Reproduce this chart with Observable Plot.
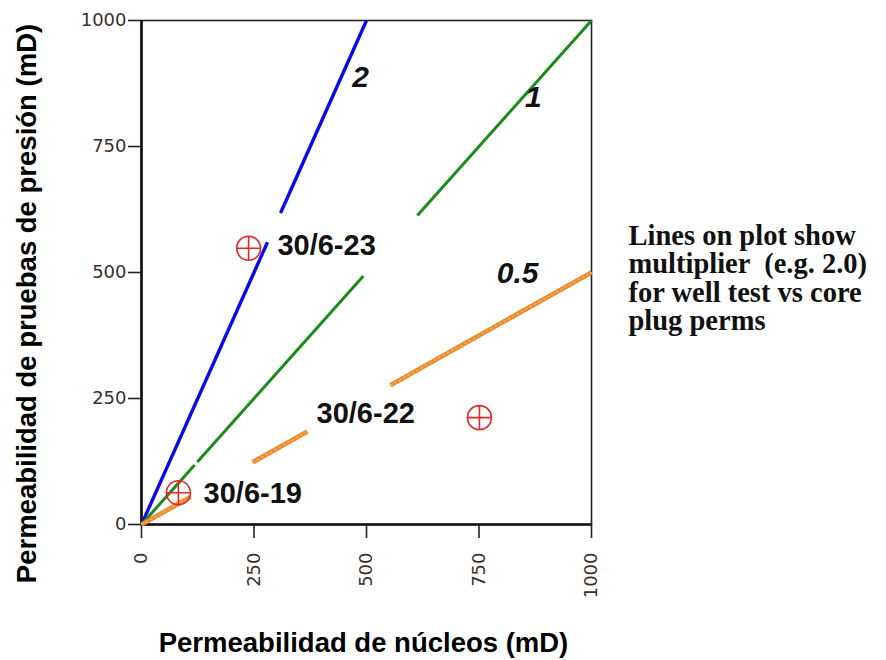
<!DOCTYPE html>
<html>
<head>
<meta charset="utf-8">
<script src="https://cdn.jsdelivr.net/npm/d3@7"></script>
<script src="https://cdn.jsdelivr.net/npm/@observablehq/plot@0.6"></script>
<style>
  html, body { margin: 0; padding: 0; background: #fff; }
  #chart svg g[aria-label="x-axis tick"] path,
  #chart svg g[aria-label="y-axis tick"] path { stroke-width: 1.6; stroke: #222; }
</style>
</head>
<body>
<div id="chart"></div>
<script>
// ---- data ----
const axisTicks = [0, 250, 500, 750, 1000];

const multiplierLabels = ["2", "1", "0.5"];
const multiplierLabelX = [487, 871, 836];
const multiplierLabelY = [887, 847, 498];

// line segments (core perm, well-test perm), gaps where labels sit
const blueSegments = [[[0, 0], [280, 560]], [[309, 618], [500, 1000]]];
const greenSegments = [[[0, 0], [118, 118]], [[124, 124], [493, 493]], [[613, 613], [1000, 1000]]];
const orangeSegments = [[[0, 0], [109, 54.5]], [[247, 123.5], [369, 184.5]], [[553, 276.5], [1000, 500]]];

const lineNames = ["x2", "x1", "x0.5"];
const lineColors = ["#0a0ae6", "#1c8a1c", "#ea8a2a"];
const lineWidths = [3.4, 3.0, 4.6];

const wellNames = ["30/6-19", "30/6-23", "30/6-22"];
const wellCorePerm = [82, 238, 751];
const wellTestPerm = [63, 548, 212];
const wellLabelX = [138, 302, 389];
const wellLabelY = [62, 553, 220];

const noteText = "Lines on plot show\nmultiplier  (e.g. 2.0)\nfor well test vs core\nplug perms";

// ---- build tables ----
const segRows = [];
[blueSegments, greenSegments, orangeSegments].forEach((segs, i) => {
  segs.forEach((s, j) => {
    s.forEach(([x, y]) => segRows.push({x, y, line: lineNames[i], seg: lineNames[i] + "-" + j}));
  });
});
const wells = wellNames.map((name, i) => ({name, x: wellCorePerm[i], y: wellTestPerm[i], lx: wellLabelX[i], ly: wellLabelY[i]}));
const mults = multiplierLabels.map((t, i) => ({t, x: multiplierLabelX[i], y: multiplierLabelY[i]}));

const crossCircle = {
  draw(ctx, size) {
    const r = Math.sqrt(size / Math.PI);
    ctx.moveTo(r, 0);
    ctx.arc(0, 0, r, 0, 2 * Math.PI);
    ctx.moveTo(-r, 0); ctx.lineTo(r, 0);
    ctx.moveTo(0, -r); ctx.lineTo(0, r);
  }
};

const lineMarks = lineNames.map((name, i) =>
  Plot.line(segRows.filter(d => d.line === name), {x: "x", y: "y", z: "seg", stroke: lineColors[i], strokeWidth: lineWidths[i], strokeLinecap: "butt"})
);

const chart = Plot.plot({
  width: 886,
  height: 660,
  marginLeft: 141,
  marginRight: 295,
  marginTop: 20,
  marginBottom: 136,
  style: {fontFamily: "DejaVu Sans, sans-serif", fontSize: "18px", color: "#3a2e2e", background: "#fff"},
  x: {domain: [0, 1000], ticks: axisTicks, tickFormat: d => String(d), tickSize: 14, tickPadding: 14, tickRotate: -90, label: null},
  y: {domain: [0, 1000], ticks: axisTicks, tickFormat: d => String(d), tickSize: 13, tickPadding: 2, label: null},
  marks: [
    Plot.frame({stroke: "#222", strokeWidth: 1.6}),
    Plot.ruleX([0], {stroke: "#111", strokeWidth: 2.6}),
    Plot.ruleY([0], {stroke: "#111", strokeWidth: 2.6}),
    ...lineMarks,
    Plot.line(segRows.filter(d => d.line === "x0.5"), {x: "x", y: "y", z: "seg", stroke: "#f3b06a", strokeWidth: 1.4, strokeDasharray: "2,3"}),
    Plot.dot(wells, {x: "x", y: "y", symbol: crossCircle, r: 12, stroke: "#e32626", strokeWidth: 1.6, fill: "none"}),
    Plot.text(wells, {x: "lx", y: "ly", text: "name", textAnchor: "start", lineAnchor: "middle", fontSize: 29, fontWeight: "bold", fontFamily: "Liberation Sans, Arial, sans-serif", fill: "#111"}),
    Plot.text(mults, {x: "x", y: "y", text: "t", textAnchor: "middle", lineAnchor: "middle", fontSize: 30, fontWeight: "bold", fontStyle: "italic", fontFamily: "Liberation Sans, Arial, sans-serif", fill: "#111"}),
    Plot.text([noteText], {frameAnchor: "right", dx: 37, dy: 6, textAnchor: "start", lineAnchor: "middle", lineHeight: 1.0, fontSize: 28.5, fontWeight: "bold", fontFamily: "Liberation Serif, Times New Roman, serif", fill: "#111"}),
    Plot.text(["Permeabilidad de núcleos (mD)"], {frameAnchor: "bottom", dx: -3, dy: 119, textAnchor: "middle", lineAnchor: "middle", fontSize: 27.5, fontWeight: "bold", fontFamily: "Liberation Sans, Arial, sans-serif", fill: "#000"}),
    Plot.text(["Permeabilidad de pruebas de presión (mD)"], {frameAnchor: "left", dx: -114, dy: 31, rotate: -90, textAnchor: "middle", lineAnchor: "middle", fontSize: 27.5, fontWeight: "bold", fontFamily: "Liberation Sans, Arial, sans-serif", fill: "#000"})
  ]
});
document.getElementById("chart").appendChild(chart);
</script>
</body>
</html>
